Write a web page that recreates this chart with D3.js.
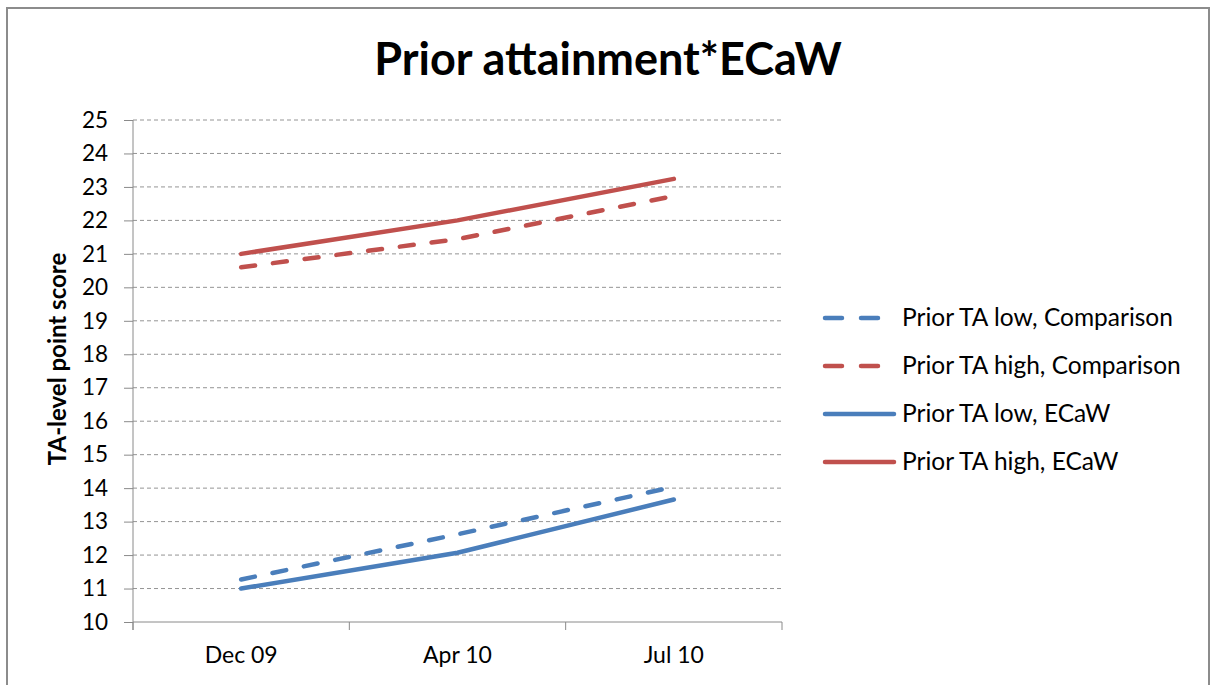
<!DOCTYPE html>
<html>
<head>
<meta charset="utf-8">
<script src="https://cdn.jsdelivr.net/npm/d3@7"></script>
<style>
  body { margin: 0; background: #fff; }
  text { font-family: Lato, "Open Sans", sans-serif; fill: #000; }
</style>
</head>
<body>
<div id="chart"></div>
<script>
// data
var categories = ["Dec 09", "Apr 10", "Jul 10"];
var yTicks = [10, 11, 12, 13, 14, 15, 16, 17, 18, 19, 20, 21, 22, 23, 24, 25];
var lowComparison = [11.27, 12.62, 14.04];
var highComparison = [20.6, 21.44, 22.73];
var lowECaW = [11.0, 12.07, 13.66];
var highECaW = [21.0, 22.0, 23.24];

var seriesNames = ["Prior TA low, Comparison", "Prior TA high, Comparison", "Prior TA low, ECaW", "Prior TA high, ECaW"];
var seriesValues = [lowComparison, highComparison, lowECaW, highECaW];
var seriesColors = ["#4a7ebb", "#c0504d", "#4a7ebb", "#c0504d"];
var seriesDashed = [true, true, false, false];

var W = 1210, H = 685;
var margin = {top: 120, left: 133, right: 428, bottom: 63};
var width = W - margin.left - margin.right,
    height = H - margin.top - margin.bottom;

var root = d3.select("#chart")
  .append("svg")
    .attr("width", W)
    .attr("height", H);

// outer frame
root.append("rect")
  .attr("x", 7).attr("y", 8)
  .attr("width", 1202).attr("height", 700)
  .attr("fill", "none")
  .attr("stroke", "#8c8c8c")
  .attr("stroke-width", 2);

// title
root.append("text")
  .attr("x", 608).attr("y", 75)
  .attr("text-anchor", "middle")
  .style("font-size", "45px")
  .style("font-weight", "bold")
  .text("Prior attainment*ECaW");

var svg = root.append("g")
  .attr("transform", "translate(" + margin.left + "," + margin.top + ")");

var x = d3.scaleBand()
  .domain(categories)
  .range([0, width]);

var y = d3.scaleLinear()
  .domain([10, 25])
  .range([height, 0]);

// gridlines
svg.append("g")
  .selectAll("line")
  .data(yTicks.filter(function(d) { return d > 10; }))
  .enter().append("line")
    .attr("x1", 0).attr("x2", width)
    .attr("y1", function(d) { return y(d); })
    .attr("y2", function(d) { return y(d); })
    .attr("stroke", "#949494")
    .attr("stroke-width", 1)
    .attr("stroke-dasharray", "4,3");

// y axis
var yAxis = svg.append("g")
  .call(d3.axisLeft(y).tickValues(yTicks).tickSize(9).tickPadding(16).tickFormat(d3.format("d")));
yAxis.select(".domain").attr("stroke", "#8a8a8a").attr("d", "M0," + (height + 8) + "V0");
yAxis.selectAll(".tick line").attr("stroke", "#8a8a8a");
yAxis.selectAll(".tick text").style("font-size", "22.5px").style("font-family", "Lato, 'Open Sans', sans-serif").attr("fill", "#000");

// x axis
var xAxis = svg.append("g")
  .attr("transform", "translate(0," + height + ")")
  .call(d3.axisBottom(x).tickSize(0).tickPadding(25));
xAxis.select(".domain").attr("stroke", "#8a8a8a").attr("d", "M0,0H" + width);
xAxis.selectAll(".tick text").style("font-size", "23px").style("font-family", "Lato, 'Open Sans', sans-serif").attr("fill", "#000");
// category boundary ticks
svg.append("g")
  .selectAll("line")
  .data(categories.concat(["end"]))
  .enter().append("line")
    .attr("x1", function(d, i) { return i * x.bandwidth(); })
    .attr("x2", function(d, i) { return i * x.bandwidth(); })
    .attr("y1", height).attr("y2", height + 8)
    .attr("stroke", "#8a8a8a");

// y axis title
root.append("text")
  .attr("transform", "translate(66," + (margin.top + 239) + ") rotate(-90)")
  .attr("text-anchor", "middle")
  .style("font-size", "24px")
  .style("font-weight", "bold")
  .text("TA-level point score");

// lines
var line = d3.line()
  .x(function(d, i) { return x(categories[i]) + x.bandwidth() / 2; })
  .y(function(d) { return y(d); });

svg.selectAll(".series")
  .data(seriesValues)
  .enter().append("path")
    .attr("class", "series")
    .attr("fill", "none")
    .attr("stroke", function(d, i) { return seriesColors[i]; })
    .attr("stroke-width", 4.5)
    .attr("stroke-linecap", "round")
    .attr("stroke-dasharray", function(d, i) { return seriesDashed[i] ? "14,18" : null; })
    .attr("d", line);

// legend
var legend = root.append("g")
  .attr("transform", "translate(825,318)");
var rows = legend.selectAll("g")
  .data(seriesNames)
  .enter().append("g")
    .attr("transform", function(d, i) { return "translate(0," + (i * 48) + ")"; });
rows.append("line")
  .attr("x1", 0).attr("x2", function(d, i) { return seriesDashed[i] ? 55 : 69; })
  .attr("y1", 0).attr("y2", 0)
  .attr("stroke", function(d, i) { return seriesColors[i]; })
  .attr("stroke-width", 4.5)
  .attr("stroke-linecap", "round")
  .attr("stroke-dasharray", function(d, i) { return seriesDashed[i] ? "17,19" : null; });
rows.append("text")
  .attr("x", 77).attr("y", 8)
  .style("font-size", "24.5px")
  .text(function(d) { return d; });
</script>
</body>
</html>
